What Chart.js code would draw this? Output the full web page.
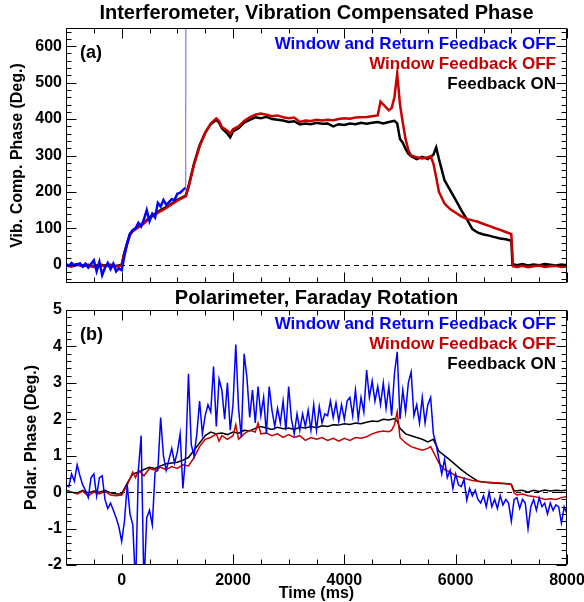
<!DOCTYPE html>
<html>
<head>
<meta charset="utf-8">
<title>Interferometer and Polarimeter Phase</title>
<script src="https://cdn.jsdelivr.net/npm/chart.js@4.4.1/dist/chart.umd.min.js"></script>
<style>
    body { margin: 0; background: #fff; }
    #wrap { position: relative; width: 584px; height: 602px; }
    #wrap canvas { position: absolute; left: 0; }
</style>
</head>
<body>
<div id="wrap">
    <canvas id="interfChart" width="584" height="290" style="top:0"></canvas>
    <canvas id="polarChart" width="584" height="312" style="top:290px"></canvas>
</div>
<script>
// Data: [time (ms), phase (deg)]

// Panel (a): interferometer, vibration compensated phase
const interfBlue = [
    [-1000, 2], [-950, -3], [-900, 5], [-850, -2], [-800, 0], [-750, 4], [-700, -5], [-650, 3],
    [-600, -8], [-550, 2], [-500, 12], [-450, -18], [-400, 8], [-350, -28], [-300, -8], [-250, 5],
    [-200, -12], [-150, 3], [-100, -18], [-50, -10], [0, -15], [50, 25], [100, 60], [150, 85],
    [200, 95], [250, 100], [300, 115], [350, 105], [400, 125], [450, 150], [500, 120], [550, 140],
    [600, 130], [650, 170], [700, 160], [750, 178], [800, 165], [850, 172], [900, 180], [950, 178],
    [1000, 195], [1050, 198], [1100, 205], [1150, 212], [1160, 2000]
];
const interfRed = [
    [-1000, -2], [-900, -5], [-800, 0], [-700, -4], [-600, -2], [-500, -6], [-400, -1], [-300, -4],
    [-200, -2], [-100, -5], [0, -2], [50, 32], [100, 58], [150, 82], [200, 92], [300, 103],
    [400, 113], [500, 128], [600, 138], [700, 147], [800, 156], [900, 166], [1000, 176], [1100, 184],
    [1150, 188], [1200, 212], [1300, 275], [1400, 325], [1500, 362], [1600, 388], [1700, 402], [1750, 395],
    [1800, 378], [1900, 368], [1950, 360], [2000, 372], [2100, 380], [2200, 395], [2300, 405], [2400, 412],
    [2500, 415], [2600, 412], [2700, 408], [2800, 410], [2900, 405], [3000, 402], [3100, 404], [3200, 392],
    [3300, 396], [3400, 395], [3500, 398], [3600, 396], [3700, 398], [3800, 397], [3900, 400], [4000, 402],
    [4100, 401], [4200, 404], [4300, 405], [4400, 406], [4500, 408], [4600, 410], [4650, 448], [4700, 440],
    [4800, 424], [4850, 430], [4900, 460], [4950, 525], [5000, 440], [5050, 390], [5100, 345], [5150, 315],
    [5200, 300], [5300, 295], [5400, 292], [5500, 295], [5550, 298], [5600, 278], [5650, 240], [5700, 200],
    [5800, 168], [5900, 153], [6000, 143], [6100, 133], [6200, 126], [6300, 122], [6400, 118], [6500, 112],
    [6600, 107], [6700, 101], [6800, 96], [6900, 90], [7000, 84], [7030, -4], [7100, -6], [7200, -3],
    [7300, -7], [7400, -4], [7500, -2], [7600, -6], [7700, -4], [7800, -3], [7900, -6], [8000, -5]
];
const interfBlack = [
    [-1000, 0], [-900, -3], [-800, 2], [-700, -2], [-600, 0], [-500, -4], [-400, 1], [-300, -2],
    [-200, 0], [-100, -3], [0, 0], [50, 35], [100, 60], [150, 85], [200, 95], [300, 105],
    [400, 115], [500, 130], [600, 140], [700, 150], [800, 158], [900, 168], [1000, 178], [1100, 186],
    [1150, 190], [1200, 215], [1300, 278], [1400, 328], [1500, 362], [1600, 386], [1700, 398], [1750, 390],
    [1800, 375], [1900, 360], [1950, 350], [2000, 366], [2100, 375], [2200, 390], [2300, 398], [2400, 405],
    [2500, 402], [2600, 406], [2700, 400], [2800, 398], [2900, 396], [3000, 392], [3100, 394], [3200, 385],
    [3300, 388], [3400, 386], [3500, 390], [3600, 387], [3700, 388], [3800, 380], [3900, 386], [4000, 384],
    [4100, 388], [4200, 386], [4300, 390], [4400, 387], [4500, 390], [4600, 392], [4700, 388], [4800, 392],
    [4900, 395], [4950, 388], [5000, 345], [5050, 335], [5100, 318], [5150, 305], [5200, 298], [5300, 290],
    [5400, 296], [5500, 290], [5600, 302], [5650, 322], [5700, 290], [5800, 232], [5900, 205], [6000, 178],
    [6100, 150], [6200, 125], [6300, 98], [6400, 88], [6500, 83], [6600, 80], [6700, 76], [6800, 72],
    [6900, 70], [7000, 66], [7020, 2], [7100, -1], [7200, 2], [7300, -2], [7400, 1], [7500, -1],
    [7600, 2], [7700, 0], [7800, -2], [7900, 1], [8000, -1]
];

// Panel (b): polarimeter, Faraday rotation
const polarBlue = [
    [-1000, 0.20], [-950, 0.15], [-900, 0.50], [-850, 0.30], [-800, 0.75], [-750, 0.45], [-700, 0.20], [-650, 0.05],
    [-600, -0.15], [-550, 0.40], [-500, 0.50], [-450, -0.10], [-400, 0.40], [-350, 0.45], [-300, -0.20], [-250, -0.45],
    [-200, -0.30], [-150, -0.50], [-100, -0.70], [-50, -0.95], [0, -1.35], [50, -0.80], [100, 0.20], [150, -0.60],
    [200, -0.90], [250, -2.60], [300, 0.60], [350, 1.55], [400, -2.60], [450, -0.70], [500, -0.50], [550, -0.90],
    [600, 0.55], [650, 0.60], [700, 2.05], [750, 1.00], [800, 0.60], [850, 0.90], [900, 1.20], [950, 0.80],
    [1000, 1.10], [1050, 1.60], [1100, 0.10], [1150, 1.00], [1200, 3.25], [1250, 1.30], [1300, 1.00], [1350, 1.60],
    [1400, 2.50], [1450, 1.60], [1500, 2.10], [1550, 2.40], [1600, 2.20], [1650, 3.45], [1700, 1.80], [1750, 3.10],
    [1800, 2.80], [1850, 2.00], [1900, 3.00], [1950, 1.70], [2000, 2.40], [2050, 4.05], [2100, 2.30], [2150, 1.50],
    [2200, 3.80], [2250, 3.15], [2300, 2.05], [2350, 2.80], [2400, 1.90], [2450, 2.90], [2500, 2.10], [2550, 2.60],
    [2600, 1.60], [2650, 2.90], [2700, 2.25], [2750, 1.80], [2800, 2.30], [2850, 1.90], [2900, 2.50], [2950, 1.70],
    [3000, 2.90], [3050, 2.00], [3100, 1.60], [3150, 2.15], [3200, 1.70], [3250, 2.15], [3300, 1.80], [3350, 2.25],
    [3400, 1.70], [3450, 2.40], [3500, 1.70], [3550, 2.35], [3600, 1.90], [3650, 2.15], [3700, 2.10], [3750, 2.50],
    [3800, 2.05], [3850, 2.45], [3900, 1.95], [3950, 2.40], [4000, 2.00], [4050, 2.50], [4100, 2.60], [4150, 2.10],
    [4200, 2.80], [4250, 2.00], [4300, 2.60], [4350, 2.20], [4400, 3.35], [4450, 2.60], [4500, 3.05], [4550, 2.50],
    [4600, 2.90], [4650, 2.40], [4700, 3.00], [4750, 2.30], [4800, 2.90], [4850, 2.10], [4900, 3.25], [4950, 3.85],
    [5000, 2.00], [5050, 2.80], [5100, 2.20], [5150, 3.00], [5200, 3.30], [5250, 2.10], [5300, 2.40], [5350, 1.90],
    [5400, 2.60], [5450, 1.90], [5500, 2.40], [5550, 2.60], [5600, 1.60], [5650, 1.30], [5700, 0.90], [5750, 0.50],
    [5800, 0.90], [5850, 0.40], [5900, 0.60], [5950, 0.10], [6000, 0.50], [6050, 0.20], [6100, 0.15], [6150, 0.35],
    [6200, -0.22], [6250, 0.10], [6300, -0.10], [6350, 0.05], [6400, -0.20], [6450, -0.30], [6500, -0.10], [6550, -0.40],
    [6600, 0.00], [6650, -0.40], [6700, -0.20], [6750, -0.45], [6800, -0.10], [6850, -0.35], [6900, -0.20], [6950, -0.30],
    [7000, -0.80], [7050, -0.20], [7100, -0.15], [7150, -0.45], [7200, -0.20], [7250, -0.30], [7300, -1.00], [7350, -0.40],
    [7400, -0.20], [7450, -0.50], [7500, -0.15], [7550, -0.40], [7600, -0.30], [7650, -0.60], [7700, -0.30], [7750, -0.50],
    [7800, -0.35], [7850, -0.40], [7900, -0.85], [7950, -0.40], [8000, -0.60]
];
const polarRed = [
    [-1000, 0.05], [-900, 0.00], [-800, -0.05], [-700, 0.02], [-600, -0.10], [-500, 0.00], [-400, -0.05], [-300, 0.02],
    [-200, -0.08], [-100, -0.10], [0, -0.08], [100, 0.20], [200, 0.55], [250, 0.40], [300, 0.60], [400, 0.45],
    [500, 0.65], [600, 0.60], [700, 0.68], [800, 0.62], [900, 0.70], [1000, 0.65], [1100, 0.75], [1200, 0.72],
    [1300, 0.95], [1400, 1.25], [1500, 1.45], [1600, 1.50], [1700, 1.60], [1750, 1.40], [1800, 1.55], [1900, 1.45],
    [2000, 1.55], [2050, 1.85], [2100, 1.45], [2200, 1.60], [2300, 1.70], [2400, 1.65], [2450, 1.90], [2500, 1.60],
    [2600, 1.62], [2700, 1.55], [2800, 1.60], [2900, 1.50], [3000, 1.58], [3100, 1.50], [3200, 1.55], [3300, 1.42],
    [3400, 1.50], [3500, 1.45], [3600, 1.50], [3700, 1.42], [3800, 1.48], [3900, 1.40], [4000, 1.48], [4100, 1.42],
    [4200, 1.50], [4300, 1.48], [4400, 1.52], [4500, 1.60], [4600, 1.65], [4700, 1.68], [4800, 1.66], [4850, 1.70],
    [4900, 1.85], [4950, 2.20], [5000, 1.50], [5100, 1.35], [5200, 1.25], [5300, 1.20], [5400, 1.15], [5500, 1.20],
    [5550, 1.25], [5600, 1.10], [5700, 0.80], [5800, 0.62], [5900, 0.55], [6000, 0.45], [6100, 0.40], [6200, 0.36],
    [6300, 0.32], [6400, 0.30], [6500, 0.28], [6600, 0.27], [6700, 0.26], [6800, 0.25], [6900, 0.23], [7000, 0.20],
    [7050, -0.02], [7100, -0.08], [7200, -0.05], [7300, -0.10], [7400, -0.12], [7500, -0.15], [7600, -0.20], [7700, -0.18],
    [7800, -0.20], [7900, -0.15], [8000, -0.12]
];
const polarBlack = [
    [-1000, 0.05], [-900, 0.00], [-800, -0.03], [-700, 0.05], [-600, -0.02], [-500, 0.03], [-400, 0.00], [-300, 0.05],
    [-200, -0.02], [-100, -0.05], [0, -0.05], [100, 0.25], [200, 0.50], [300, 0.55], [400, 0.62], [500, 0.68],
    [600, 0.65], [700, 0.72], [800, 0.78], [900, 0.80], [1000, 0.82], [1100, 0.88], [1200, 0.95], [1300, 1.15],
    [1400, 1.35], [1500, 1.55], [1600, 1.65], [1700, 1.60], [1800, 1.62], [1900, 1.58], [2000, 1.65], [2100, 1.62],
    [2200, 1.70], [2300, 1.68], [2400, 1.75], [2500, 1.80], [2600, 1.76], [2700, 1.72], [2800, 1.78], [2900, 1.74],
    [3000, 1.76], [3100, 1.72], [3200, 1.78], [3300, 1.76], [3400, 1.80], [3500, 1.77], [3600, 1.82], [3700, 1.80],
    [3800, 1.85], [3900, 1.84], [4000, 1.88], [4100, 1.86], [4200, 1.90], [4300, 1.88], [4400, 1.92], [4500, 1.95],
    [4600, 1.94], [4700, 2.00], [4800, 1.98], [4900, 2.02], [4950, 1.95], [5000, 1.75], [5100, 1.60], [5200, 1.55],
    [5300, 1.50], [5400, 1.45], [5500, 1.38], [5600, 1.45], [5700, 1.12], [5800, 1.00], [5900, 0.88], [6000, 0.75],
    [6100, 0.62], [6200, 0.50], [6300, 0.40], [6400, 0.30], [6500, 0.28], [6600, 0.26], [6700, 0.25], [6800, 0.24],
    [6900, 0.24], [7000, 0.22], [7050, 0.03], [7200, 0.05], [7300, 0.00], [7400, 0.05], [7500, 0.02], [7600, 0.06],
    [7700, 0.03], [7800, 0.05], [7900, 0.04], [8000, 0.06]
];

// Axis ranges and tick labels
const timeRange = [-1000, 8000];
const timeTicks = [0, 2000, 4000, 6000, 8000];
const interfRange = [-50, 650];
const interfTicks = [0, 100, 200, 300, 400, 500, 600];
const polarRange = [-2, 5];
const polarTicks = [-2, -1, 0, 1, 2, 3, 4, 5];

const legendLabels = ['Window and Return Feedback OFF', 'Window Feedback OFF', 'Feedback ON'];
const seriesColors = ['#0000ff', '#c80000', '#000000'];

const FONT = '"Liberation Sans", Arial, Helvetica, sans-serif';
const AXIS_W = 66;

/**
 * Box, inward ticks on all four sides, zero line and the texts
 */
const framePlugin = {
    id: 'frame',
    beforeDatasetsDraw(chart) {
        const { ctx, chartArea: a, scales: { y } } = chart;
        const py = Math.round(y.getPixelForValue(0)) + 0.5;
        ctx.save();
        ctx.strokeStyle = '#000';
        ctx.lineWidth = 1;
        ctx.setLineDash([5, 4]);
        ctx.beginPath();
        ctx.moveTo(a.left, py);
        ctx.lineTo(a.right, py);
        ctx.stroke();
        ctx.restore();
    },
    afterDraw(chart, args, opts) {
        const { ctx, chartArea: a, scales: { x, y } } = chart;
        const L = Math.round(a.left) + 0.5, R = Math.round(a.right) - 0.5;
        const T = Math.round(a.top) + 0.5, B = Math.round(a.bottom) - 0.5;
        ctx.save();
        ctx.strokeStyle = '#000';
        ctx.lineWidth = 1;
        ctx.beginPath();
        ctx.rect(L, T, R - L, B - T);

        // x ticks
        for (let v = Math.ceil(x.min / opts.xMinor) * opts.xMinor; v <= x.max; v += opts.xMinor) {
            const len = v % opts.xMajor === 0 ? 10 : 5;
            const px = Math.round(x.getPixelForValue(v)) + 0.5;
            ctx.moveTo(px, B); ctx.lineTo(px, B - len);
            ctx.moveTo(px, T); ctx.lineTo(px, T + len);
        }
        // y ticks
        const n0 = Math.ceil(y.min / opts.yMinor - 1e-6);
        const n1 = Math.floor(y.max / opts.yMinor + 1e-6);
        for (let i = n0; i <= n1; i++) {
            const v = i * opts.yMinor;
            const r = v / opts.yMajor;
            const len = Math.abs(r - Math.round(r)) < 1e-6 ? 10 : 5;
            const py = Math.round(y.getPixelForValue(v)) + 0.5;
            ctx.moveTo(L, py); ctx.lineTo(L + len, py);
            ctx.moveTo(R, py); ctx.lineTo(R - len, py);
        }
        ctx.stroke();

        const cx = (a.left + a.right) / 2;
        ctx.fillStyle = '#000';
        ctx.textBaseline = 'middle';

        // panel title
        ctx.textAlign = 'center';
        ctx.font = `bold 20px ${FONT}`;
        ctx.fillText(opts.title, cx, opts.titleY);

        // y axis title
        ctx.save();
        ctx.translate(opts.yTitleX, (a.top + a.bottom) / 2);
        ctx.rotate(-Math.PI / 2);
        ctx.font = `bold 16px ${FONT}`;
        ctx.fillText(opts.yTitle, 0, 0);
        ctx.restore();

        // x axis title
        if (opts.xTitle) {
            ctx.font = `bold 16px ${FONT}`;
            ctx.fillText(opts.xTitle, cx, opts.xTitleY);
        }

        // panel letter
        ctx.textAlign = 'left';
        ctx.font = `bold 18px ${FONT}`;
        ctx.fillText(opts.letter, a.left + 14, a.top + opts.letterDy);

        // legend
        ctx.textAlign = 'right';
        ctx.font = `bold 17px ${FONT}`;
        legendLabels.forEach((label, i) => {
            ctx.fillStyle = seriesColors[i];
            ctx.fillText(label, a.right - 11, a.top + opts.legendDy + i * 20);
        });
        ctx.restore();
    }
};

function toXY(pairs) {
    return pairs.map(p => ({ x: p[0], y: p[1] }));
}

function makeDatasets(blue, red, black, width) {
    // first dataset is painted on top
    return [
        {
            data: toXY(blue), borderColor: seriesColors[0], borderWidth: width,
            segment: {
                borderColor: c => c.p1.parsed.y > 1000 ? 'rgba(110,110,255,0.9)' : undefined,
                borderWidth: c => c.p1.parsed.y > 1000 ? 1.2 : undefined
            }
        },
        { data: toXY(red), borderColor: seriesColors[1], borderWidth: width },
        { data: toXY(black), borderColor: seriesColors[2], borderWidth: width }
    ];
}

function makeOptions(yRange, yTicks, showX, padding, frame) {
    const tickFont = { family: FONT, size: 16, weight: 'bold' };
    return {
        responsive: false,
        animation: false,
        layout: { padding: padding },
        elements: { point: { radius: 0 }, line: { tension: 0 } },
        plugins: { legend: { display: false }, tooltip: { enabled: false }, frame: frame },
        scales: {
            x: {
                type: 'linear',
                display: showX,
                min: timeRange[0],
                max: timeRange[1],
                grid: { display: false, drawTicks: false },
                border: { display: false },
                ticks: { color: '#000', font: tickFont, padding: 6, maxRotation: 0, callback: v => String(v) },
                afterBuildTicks: s => { s.ticks = timeTicks.map(v => ({ value: v })); },
                afterFit: s => {
                    s.height = showX ? 37 : 0;
                    s.paddingLeft = 0;
                    s.paddingRight = 0;
                }
            },
            y: {
                type: 'linear',
                min: yRange[0],
                max: yRange[1],
                grid: { display: false, drawTicks: false },
                border: { display: false },
                ticks: { color: '#000', font: tickFont, padding: 4, callback: v => String(v) },
                afterBuildTicks: s => { s.ticks = yTicks.map(v => ({ value: v })); },
                afterFit: s => {
                    s.width = AXIS_W;
                    s.paddingTop = 0;
                    s.paddingBottom = 0;
                }
            }
        }
    };
}

new Chart(document.getElementById('interfChart'), {
    type: 'line',
    data: { datasets: makeDatasets(interfBlue, interfRed, interfBlack, 2.5) },
    options: makeOptions(interfRange, interfTicks, false, { top: 28, right: 17, bottom: 7, left: 0 }, {
        title: 'Interferometer, Vibration Compensated Phase', titleY: 13,
        yTitle: 'Vib. Comp. Phase (Deg.)', yTitleX: 18,
        letter: '(a)', letterDy: 25, legendDy: 16,
        xMinor: 500, xMajor: 2000, yMinor: 20, yMajor: 100
    }),
    plugins: [framePlugin]
});

new Chart(document.getElementById('polarChart'), {
    type: 'line',
    data: { datasets: makeDatasets(polarBlue, polarRed, polarBlack, 1.5) },
    options: makeOptions(polarRange, polarTicks, true, { top: 20, right: 17, bottom: 0, left: 0 }, {
        title: 'Polarimeter, Faraday Rotation', titleY: 8,
        yTitle: 'Polar. Phase (Deg.)', yTitleX: 32,
        xTitle: 'Time (ms)', xTitleY: 304,
        letter: '(b)', letterDy: 25, legendDy: 14,
        xMinor: 500, xMajor: 2000, yMinor: 0.2, yMajor: 1
    }),
    plugins: [framePlugin]
});
</script>
</body>
</html>
